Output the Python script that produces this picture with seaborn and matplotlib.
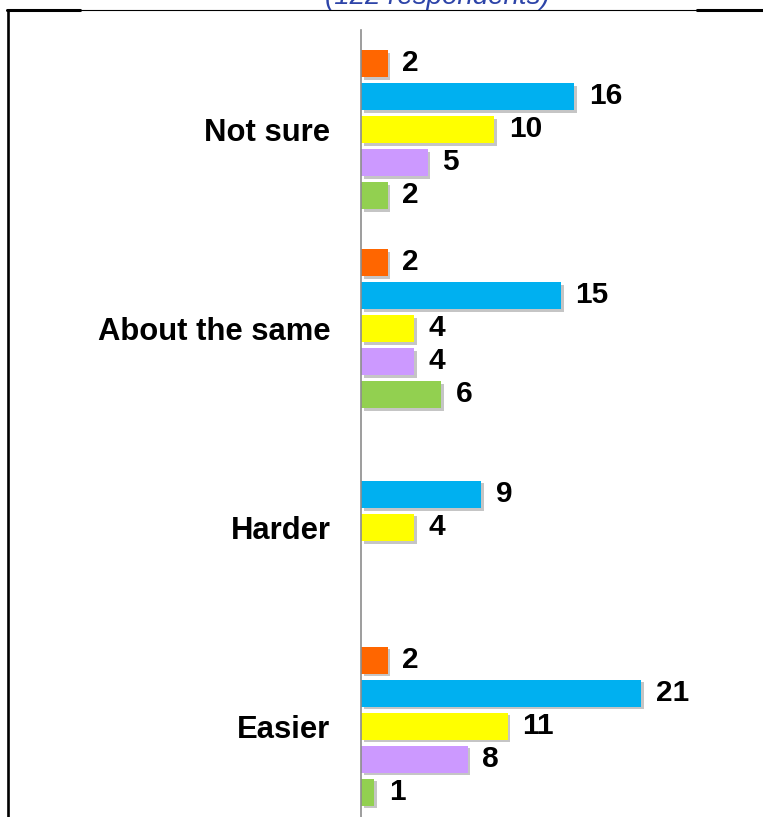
import matplotlib
matplotlib.use("Agg")
import matplotlib.pyplot as plt
import matplotlib.patheffects as pe
from matplotlib.lines import Line2D
import numpy as np
import pandas as pd
import seaborn as sns

# Survey answers (top to bottom) and the five respondent groups
categories = ["Not sure", "About the same", "Harder", "Easier"]
groups = ["Group 1", "Group 2", "Group 3", "Group 4", "Group 5"]
group_colors = ["#FF6600", "#00B0F0", "#FFFF00", "#CC99FF", "#92D050"]

# Counts per answer, one list per group (None = no responses in that group)
group1 = [2, 2, None, 2]
group2 = [16, 15, 9, 21]
group3 = [10, 4, 4, 11]
group4 = [5, 4, None, 8]
group5 = [2, 6, None, 1]

title_text = "(122 respondents)"

rows = []
for g, vals in zip(groups, [group1, group2, group3, group4, group5]):
    for c, v in zip(categories, vals):
        if v is not None:
            rows.append({"answer": c, "group": g, "count": v})
df = pd.DataFrame(rows)

sns.set_theme(style="white")
plt.rcParams["font.family"] = ["Liberation Sans", "DejaVu Sans"]

W, H = 763, 817
fig = plt.figure(figsize=(W / 100, H / 100), dpi=100)
fig.patch.set_facecolor("white")

ax_left, ax_top = 361 / W, 1 - 30 / H
ax = fig.add_axes([ax_left, 0.0, 1 - ax_left, ax_top])

sns.barplot(
    data=df, y="answer", x="count", hue="group",
    order=categories, hue_order=groups, palette=group_colors,
    orient="h", width=0.83, gap=0.18, dodge=True,
    errorbar=None, legend=False, ax=ax, saturation=1,
)

shadow = [pe.SimplePatchShadow(offset=(2.0, -2.0), shadow_rgbFace=(0.5, 0.5, 0.5), alpha=0.45),
          pe.Normal()]
for bar in ax.patches:
    bar.set_edgecolor("none")
    bar.set_path_effects(shadow)

for cont in ax.containers:
    ax.bar_label(cont, fmt="{:.0f}", padding=10.5, fontsize=21.5,
                 fontweight="bold", color="black")

ax.set_xlim(0, 30.15)
ax.set_ylim(3.457, -0.5)
ax.set_xlabel("")
ax.set_ylabel("")
ax.set_xticks([])
ax.tick_params(axis="y", length=0, pad=22, labelsize=22.3)
for lab in ax.get_yticklabels():
    lab.set_fontweight("bold")
    lab.set_color("black")
for s in ["top", "right", "bottom"]:
    ax.spines[s].set_visible(False)
ax.spines["left"].set_color("#8C8C8C")
ax.spines["left"].set_linewidth(1.2)
ax.patch.set_alpha(0)

# Frame around the chart: left edge and top edge
y_top = 1 - 10 / H
fig.add_artist(Line2D([8 / W, 8 / W], [y_top, 0], color="black", lw=1.9,
                      transform=fig.transFigure))
fig.add_artist(Line2D([7 / W, 1], [y_top, y_top], color="black", lw=0.8,
                      transform=fig.transFigure))
fig.add_artist(Line2D([7 / W, 80 / W], [y_top, y_top], color="black", lw=2.2,
                      transform=fig.transFigure))
fig.add_artist(Line2D([697 / W, 1], [y_top, y_top], color="black", lw=2.2,
                      transform=fig.transFigure))

# Subtitle sits above the frame and runs off the top edge
fig.text(437 / W, 1 - 4 / H, title_text, ha="center", va="baseline",
         fontsize=20, style="italic", color="#2D44A8")

fig.savefig("out.png", dpi=100, facecolor="white")
